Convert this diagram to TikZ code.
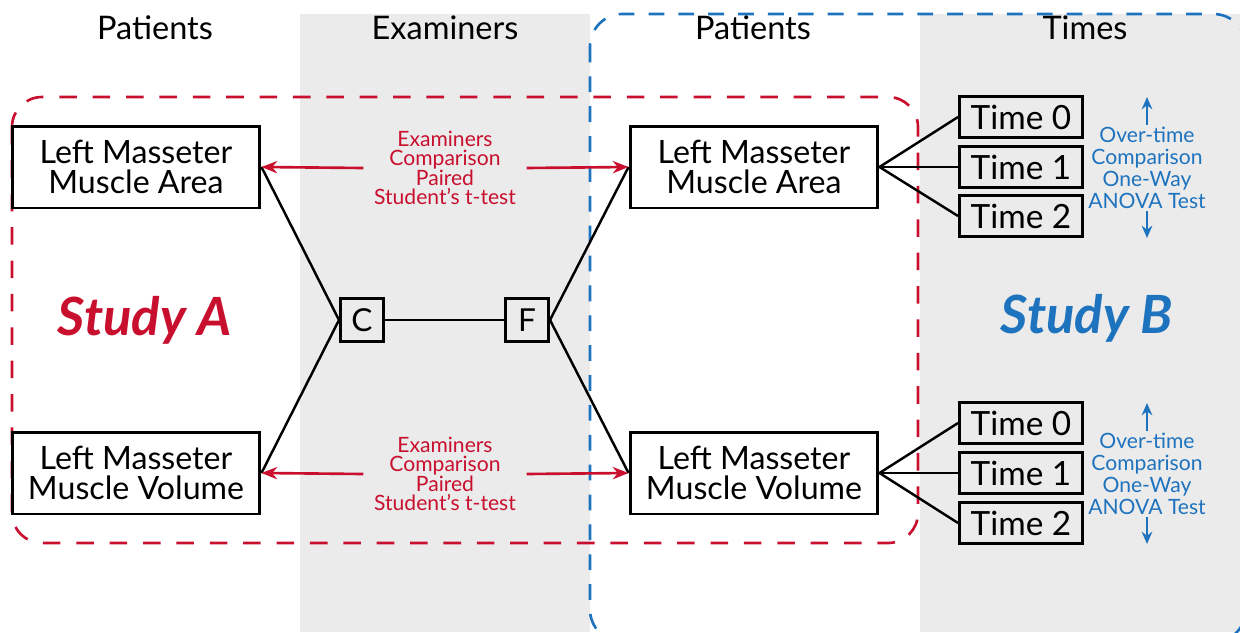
\documentclass[tikz,border=0pt]{standalone}
\usepackage{fontspec}
\setmainfont{Lato}
\usetikzlibrary{arrows.meta}
\definecolor{studyred}{RGB}{200,16,46}
\definecolor{studyblue}{RGB}{30,115,190}
\definecolor{colgray}{RGB}{235,235,235}

\begin{document}
\begin{tikzpicture}[x=0.02cm, y=-0.02cm,
  musclebox/.style={draw, line width=1.7pt, minimum width=4.96cm, minimum height=1.64cm,
    align=center, inner sep=0pt, font=\fontsize{18.3}{17}\selectfont},
  timebox/.style={draw, line width=1.7pt, minimum width=2.46cm, minimum height=0.82cm,
    inner sep=0pt, font=\fontsize{19}{17}\selectfont},
  exbox/.style={draw, line width=1.7pt, minimum size=0.86cm, inner sep=0pt,
    font=\fontsize{18}{17}\selectfont},
  header/.style={font=\fontsize{18.5}{17}\selectfont},
  redtext/.style={text=studyred, align=center, inner xsep=6pt, font=\fontsize{12}{11}\selectfont},
  bluetext/.style={text=studyblue, align=center, inner sep=1pt, font=\fontsize{12}{12.5}\selectfont},
  redarrow/.style={studyred, line width=1.5pt, -{Stealth[length=9pt,width=7pt]}},
  bluearrow/.style={studyblue, line width=1.4pt, -{Stealth[length=7pt,width=6pt]}},
  link/.style={line width=1.4pt},
  study/.style={font=\fontsize{30}{30}\selectfont\bfseries\itshape}
]
\useasboundingbox (0,0) rectangle (1240,632);

% gray columns
\fill[colgray] (300,14) rectangle (590,632);
\fill[colgray] (920,14) rectangle (1240,632);

% column titles
\node[header] (hPatA) at (155,28) {Patients};
\node[header] (hExam) at (445,28) {Examiners};
\node[header] (hPatB) at (753,28) {Patients};
\node[header] (hTime) at (1085,28) {Times};

% study frames
\draw[studyred, line width=1.5pt, dash pattern=on 10pt off 9pt, rounded corners=0.6cm]
  (12,97) rectangle (918,543);
\draw[studyblue, line width=1.5pt, dash pattern=on 9pt off 8pt, rounded corners=0.65cm]
  (590,14) rectangle (1246,642);

\node[study, text=studyred] (studyA) at (145,320) {Study A};
\node[study, text=studyblue] (studyB) at (1087,318) {Study B};

% muscle boxes
\node[musclebox] (areaL) at (136,167) {Left Masseter\\Muscle Area};
\node[musclebox] (volL) at (136,473) {Left Masseter\\Muscle Volume};
\node[musclebox] (areaR) at (754,167) {Left Masseter\\Muscle Area};
\node[musclebox] (volR) at (754,473) {Left Masseter\\Muscle Volume};

% examiners
\node[exbox] (exC) at (362,320) {C};
\node[exbox] (exF) at (527,320) {F};

\draw[link] (areaL.east) -- (exC.west);
\draw[link] (volL.east) -- (exC.west);
\draw[link] (exC) -- (exF);
\draw[link] (exF.east) -- (areaR.west);
\draw[link] (exF.east) -- (volR.west);

% examiners comparison
\node[redtext] (cmpA) at (445,168) {Examiners\\Comparison\\Paired\\Student’s t-test};
\node[redtext] (cmpV) at (445,474) {Examiners\\Comparison\\Paired\\Student’s t-test};
\draw[redarrow] (cmpA.west) -- (areaL.east);
\draw[redarrow] (cmpA.east) -- (areaR.west);
\draw[redarrow] (cmpV.west) -- (volL.east);
\draw[redarrow] (cmpV.east) -- (volR.west);

% times
\node[timebox] (tA0) at (1021,117) {Time 0};
\node[timebox] (tA1) at (1021,167) {Time 1};
\node[timebox] (tA2) at (1021,216) {Time 2};
\node[timebox] (tV0) at (1021,423) {Time 0};
\node[timebox] (tV1) at (1021,473) {Time 1};
\node[timebox] (tV2) at (1021,523) {Time 2};

\draw[link] (areaR.east) -- (tA0.west);
\draw[link] (areaR.east) -- (tA1.west);
\draw[link] (areaR.east) -- (tA2.west);
\draw[link] (volR.east) -- (tV0.west);
\draw[link] (volR.east) -- (tV1.west);
\draw[link] (volR.east) -- (tV2.west);

% over-time comparison
\node[bluetext] (ovA) at (1147,168) {Over-time\\Comparison\\One-Way\\ANOVA Test};
\node[bluetext] (ovV) at (1147,474) {Over-time\\Comparison\\One-Way\\ANOVA Test};
\coordinate (ovAup) at (1147,97);
\coordinate (ovAdn) at (1147,238);
\coordinate (ovVup) at (1147,403);
\coordinate (ovVdn) at (1147,544);
\draw[bluearrow] (ovA.north) -- (ovAup);
\draw[bluearrow] (ovA.south) -- (ovAdn);
\draw[bluearrow] (ovV.north) -- (ovVup);
\draw[bluearrow] (ovV.south) -- (ovVdn);
\end{tikzpicture}
\end{document}
